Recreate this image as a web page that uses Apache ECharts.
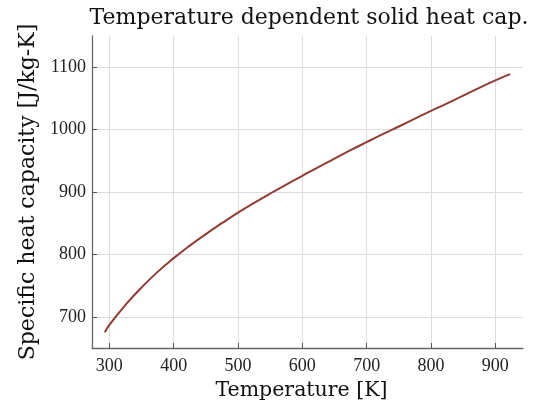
<!DOCTYPE html>
<html><head><meta charset="utf-8">
<script src="https://cdn.jsdelivr.net/npm/echarts@6/dist/echarts.min.js"></script>
<style>html,body{margin:0;padding:0;background:#fff}#c{width:534px;height:410px}</style>
</head><body><div id="c"></div>
<script>
const temperature = [293, 300, 325, 350, 375, 400, 425, 450, 475, 500, 525, 550, 575, 600, 625, 650, 675, 700, 725, 750, 775, 800, 825, 850, 875, 900, 923];
const heatCap = [675, 687, 719, 747, 772, 794, 814, 832.5, 850, 867, 882.5, 897.5, 912, 926, 940, 953.5, 967, 980, 992.7, 1005, 1017.5, 1030, 1042, 1054.5, 1067, 1079, 1089];
const xTicks = [300, 400, 500, 600, 700, 800, 900];
const yTicks = [700, 800, 900, 1000, 1100];
const titleText = 'Temperature dependent solid heat cap.';
const xName = 'Temperature [K]';
const yName = 'Specific heat capacity [J/kg-K]';

const serif = 'DejaVu Serif';
const tickFont = 'Liberation Serif';
const chart = echarts.init(document.getElementById('c'), null, {renderer: 'canvas'});
chart.setOption({
  animation: false,
  backgroundColor: '#fff',
  title: {text: titleText, left: 304, textAlign: 'center', top: 2,
    textStyle: {fontFamily: serif, fontWeight: 'normal', fontSize: 22, color: '#111'}},
  grid: {left: 92, right: 11, top: 36, bottom: 62, outerBoundsMode: 'none', containLabel: false},
  xAxis: {
    type: 'value', min: 273, max: 943,
    name: xName, nameLocation: 'middle', nameGap: 32,
    nameTextStyle: {fontFamily: serif, fontSize: 20.5, color: '#111', padding: [0, 12, 0, 0]},
    axisLine: {show: true, lineStyle: {color: '#666', width: 1.3}},
    axisTick: {show: true, inside: true, length: 5, customValues: xTicks, lineStyle: {color: '#555'}},
    axisLabel: {customValues: xTicks, fontFamily: tickFont, fontSize: 18, color: '#222', margin: 9,
      formatter: v => String(v)},
    splitLine: {show: true, lineStyle: {color: '#dcdcdc', width: 1}}
  },
  yAxis: {
    type: 'value', min: 650, max: 1150,
    name: yName, nameLocation: 'middle', nameGap: 47,
    nameTextStyle: {fontFamily: serif, fontSize: 22, color: '#111'},
    axisLine: {show: true, lineStyle: {color: '#666', width: 1.3}},
    axisTick: {show: true, inside: true, length: 5, customValues: yTicks, lineStyle: {color: '#555'}},
    axisLabel: {customValues: yTicks, fontFamily: tickFont, fontSize: 18, color: '#222', margin: 6,
      formatter: v => String(v)},
    splitLine: {show: true, lineStyle: {color: '#dcdcdc', width: 1}}
  },
  series: [{
    type: 'line', data: temperature.map((t, i) => [t, heatCap[i]]),
    showSymbol: false, smooth: true,
    lineStyle: {color: '#923b33', width: 2}
  }]
});
</script></body></html>
